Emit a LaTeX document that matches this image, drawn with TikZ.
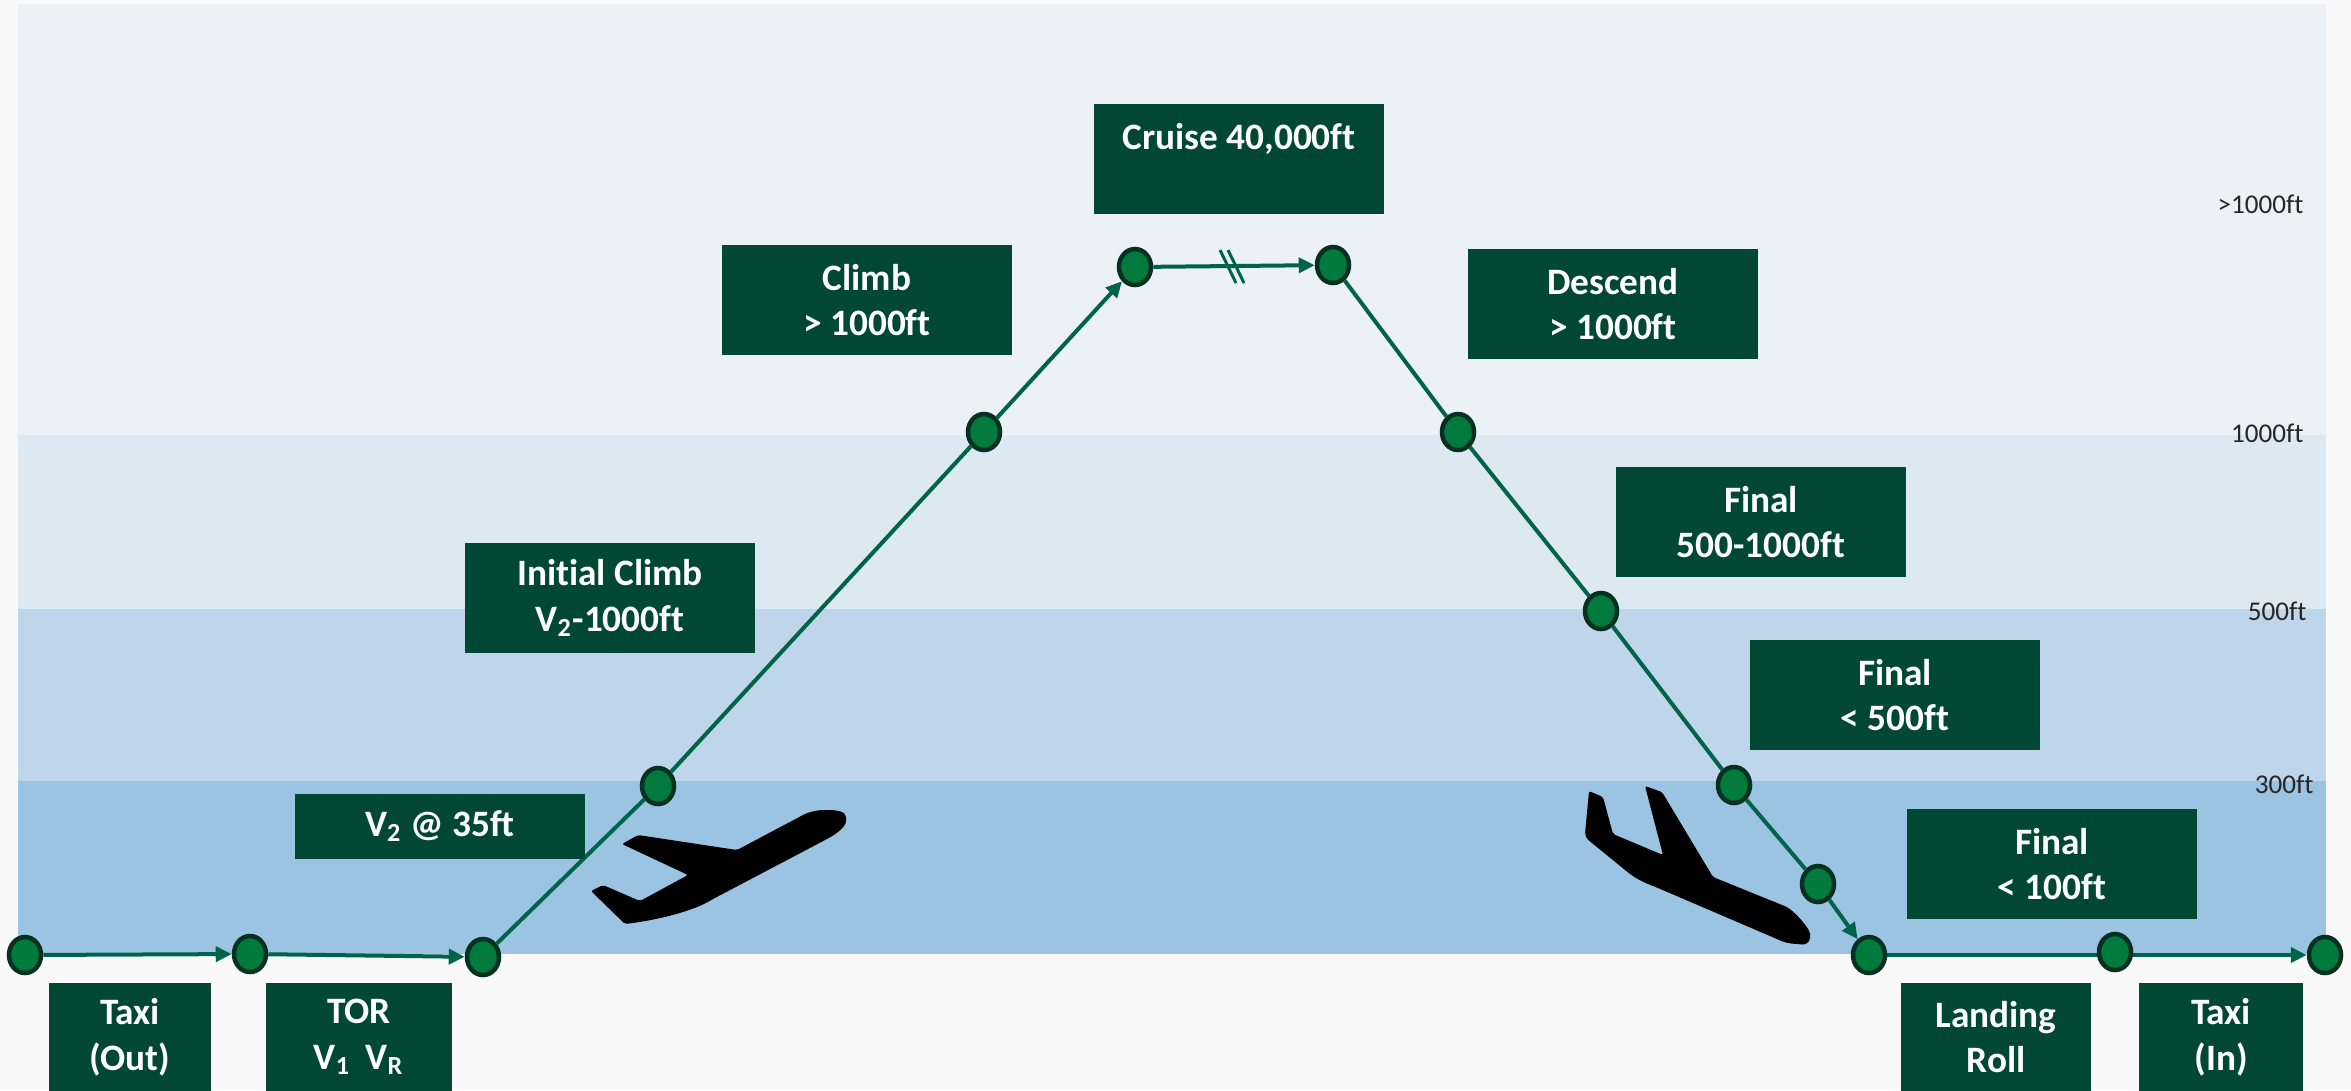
\documentclass[tikz,border=0pt]{standalone}
\usepackage{fontspec}
\setmainfont[Ligatures=NoCommon]{Carlito}
\usepackage{tikz}
\usetikzlibrary{arrows.meta}
\usetikzlibrary{shapes.geometric}
\definecolor{pagebg}{HTML}{F9F9F9}
\definecolor{bandA}{HTML}{ECF1F6}
\definecolor{bandB}{HTML}{DCE8F2}
\definecolor{bandC}{HTML}{BFD6EA}
\definecolor{bandD}{HTML}{9AC4E2}
\definecolor{boxgreen}{HTML}{004833}
\definecolor{dotgreen}{HTML}{007A3D}
\definecolor{dotline}{HTML}{06301F}
\definecolor{legline}{HTML}{00634A}
\begin{document}
\begin{tikzpicture}[x=0.01cm,y=-0.01cm]
			\tikzset{waypoint/.style = {shape=ellipse,draw=dotline,fill=dotgreen,line width=0.045cm,inner sep=0pt,minimum width=0.32cm,minimum height=0.36cm}}
			\tikzset{leg/.style = {-{Triangle[length=0.16cm,width=0.15cm]},draw=legline,line width=0.04cm}}
			\tikzset{phase/.style = {fill=boxgreen,text=white,align=center,inner sep=0pt,minimum width=2.9cm,minimum height=1.1cm,font=\bfseries\fontsize{10.6}{13}\selectfont}}
			\tikzset{ground/.style = {phase,minimum height=1.08cm}}
			\tikzset{level/.style = {anchor=east,inner sep=0pt,text=black!85,font=\fontsize{7.7}{10}\selectfont}}
			\useasboundingbox (0,-1) rectangle (2351,1089);
			% bands
			\fill[pagebg] (0,-1) rectangle (2351,1089);
			\fill[bandA] (18,3) rectangle (2326,434);
			\fill[bandB] (18,434) rectangle (2326,608);
			\fill[bandC] (18,608) rectangle (2326,780);
			\fill[bandD] (18,780) rectangle (2326,953);
			% levels
			\node[level] (l1) at (2304,203) {>1000ft};
			\node[level] (l2) at (2304,432) {1000ft};
			\node[level] (l3) at (2307,610) {500ft};
			\node[level] (l4) at (2314,783) {300ft};
			% vertices
			\node[waypoint] (a) at (25,954) {};
			\node[waypoint] (b) at (250,953) {};
			\node[waypoint] (c) at (483,956) {};
			\node[waypoint] (d) at (658,785) {};
			\node[waypoint] (e) at (984,431) {};
			\node[waypoint] (f) at (1135,266) {};
			\node[waypoint] (g) at (1333,264) {};
			\node[waypoint] (h) at (1458,431) {};
			\node[waypoint] (i) at (1601,610) {};
			\node[waypoint] (j) at (1734,784) {};
			\node[waypoint] (k) at (1818,883) {};
			\node[waypoint] (m) at (1869,954) {};
			\node[waypoint] (o) at (2325,954) {};
			% edges
			\draw[leg] (a) -- (b);
			\draw[leg] (b) -- (c);
			\draw[leg,-] (c) -- (d);
			\draw[leg,-] (d) -- (e);
			\draw[leg] (e) -- (f);
			\draw[leg] (f) -- (g);
			\draw[leg,-] (g) -- (h);
			\draw[leg,-] (h) -- (i);
			\draw[leg,-] (i) -- (j);
			\draw[leg,-] (j) -- (k);
			\draw[leg] (k) -- (m);
			\draw[leg] (m) -- (o);
			\node[waypoint] (n) at (2115,951) {};
			% break in cruise
			\draw[legline,line width=0.03cm] (1220,249) -- (1236,282) (1228,249) -- (1244,282);
			% boxes
			\node[phase] (cruise) at (1239,158) {Cruise 40,000ft\\[-0.15cm]\strut};
			\node[phase] (climb) at (867,299) {Climb\\> 1000ft};
			\node[phase] (descend) at (1613,303) {Descend\\> 1000ft};
			\node[phase] (fin1) at (1761,521) {Final\\500-1000ft};
			\node[phase] (fin2) at (1895,694) {Final\\< 500ft};
			\node[phase] (fin3) at (2052,863) {Final\\< 100ft};
			\node[phase] (init) at (610,597) {Initial Climb\\V\textsubscript{2}-1000ft};
			\node[phase,minimum height=0.65cm] (vtwo) at (440,825) {V\textsubscript{2} @ 35ft};
			\node[ground,minimum width=1.62cm] (tout) at (130,1036) {Taxi\\(Out)};
			\node[ground,minimum width=1.86cm] (tor) at (359,1036) {TOR\\V\textsubscript{1}\, V\textsubscript{R}};
			\node[ground,minimum width=1.89cm] (roll) at (1996,1036) {Landing\\Roll};
			\node[ground,minimum width=1.63cm] (tin) at (2221,1036) {Taxi\\(In)};
			% planes
			\fill[black,rounded corners=0.02cm] (846,818) .. controls (846,810) and (835,809) .. (827,809) .. controls (817,809) and (809,811) .. (803,814)
				-- (737,849) -- (638,834) -- (622,843) -- (688,874) -- (640,900) -- (603,884) -- (591,890) -- (625,923)
				.. controls (650,920) and (690,912) .. (713,898) -- (827,838) .. controls (838,832) and (846,825) .. (846,818) -- cycle;
			\fill[black,rounded corners=0.02cm] (1589,790) -- (1603,796) -- (1613,833) -- (1663,854) -- (1645,785) -- (1662,791) -- (1713,876) -- (1787,906)
				.. controls (1797,913) and (1810,928) .. (1810,935) .. controls (1810,942) and (1804,944) .. (1800,943) .. controls (1790,943) and (1783,941) .. (1777,938)
				-- (1658,887) .. controls (1648,883) and (1640,880) .. (1630,873) -- (1587,838) -- (1585,833) -- cycle;
		\end{tikzpicture}
\end{document}
